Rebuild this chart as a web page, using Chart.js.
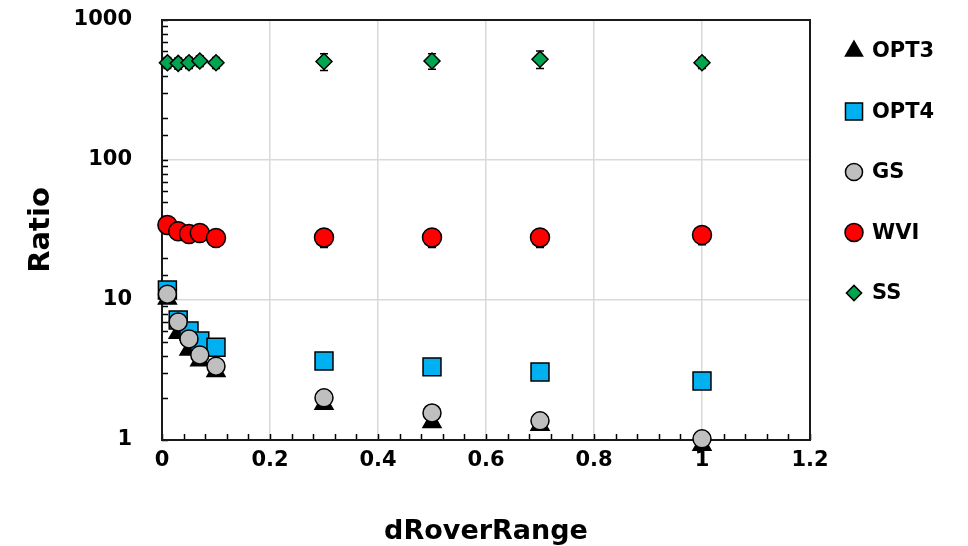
<!DOCTYPE html>
<html>
<head>
<meta charset="utf-8">
<script src="https://cdn.jsdelivr.net/npm/chart.js@4/dist/chart.umd.min.js"></script>
<style>
  html, body { margin: 0; padding: 0; background: #fff; }
  #wrap { width: 968px; height: 546px; }
</style>
</head>
<body>
<div id="wrap"><canvas id="ratioChart" width="968" height="546"></canvas></div>
<script>
// x positions (dRoverRange) shared by every series
const dRover = [0.01, 0.03, 0.05, 0.07, 0.1, 0.3, 0.5, 0.7, 1.0];

const opt3 = [10.2, 5.8, 4.4, 3.7, 3.1, 1.81, 1.34, 1.28, 0.92];
const opt4 = [11.8, 7.2, 6.0, 5.1, 4.6, 3.67, 3.33, 3.06, 2.64];
const gs   = [11.0, 6.97, 5.27, 4.05, 3.37, 2.0, 1.56, 1.37, 1.02];
const wvi  = [34.4, 31.0, 29.6, 30.1, 27.7, 28.0, 28.0, 28.0, 29.1];
const ss   = [495, 490, 495, 510, 495, 505, 510, 525, 495];

// error bar half-heights
const wviErr = [3, 3, 3, 3, 3, 4.3, 4.3, 4.3, 4.3];
const ssErr  = [45, 45, 45, 45, 45, 70, 65, 75, 45];

const xTickLabels = ['0', '0.2', '0.4', '0.6', '0.8', '1', '1.2'];
const yTickLabels = ['1', '10', '100', '1000'];

const FONT = 'DejaVu Sans';
const GRID = '#d9d9d9';

function pts(ys) {
    return ys.map((y, i) => ({ x: dRover[i], y: y }));
}

function xLabelFor(v) {
    const k = Math.round(v / 0.2);
    if (Math.abs(v - k * 0.2) > 1e-6) return null;
    return xTickLabels[k] !== undefined ? xTickLabels[k] : null;
}

function yLabelFor(v) {
    const k = Math.round(Math.log10(v));
    if (Math.abs(v - Math.pow(10, k)) > 1e-6) return null;
    return yTickLabels[k] !== undefined ? yTickLabels[k] : null;
}

const datasets = [
    { label: 'OPT3', data: pts(opt3), pointStyle: 'triangle', pointRadius: 10.4,
      backgroundColor: '#000000', borderColor: '#000000', order: 5 },
    { label: 'OPT4', data: pts(opt4), pointStyle: 'rect', pointRadius: 12.7,
      backgroundColor: '#00b0f0', borderColor: '#000000', order: 4 },
    { label: 'GS', data: pts(gs), pointStyle: 'circle', pointRadius: 9,
      backgroundColor: '#bfbfbf', borderColor: '#000000', order: 3 },
    { label: 'WVI', data: pts(wvi), pointStyle: 'circle', pointRadius: 9.5,
      backgroundColor: '#ff0000', borderColor: '#000000', order: 2, err: wviErr },
    { label: 'SS', data: pts(ss), pointStyle: 'rectRot', pointRadius: 8,
      backgroundColor: '#00a550', borderColor: '#000000', order: 1, err: ssErr }
];
datasets.forEach(d => {
    d.pointBorderWidth = 1.5;
    d.pointHoverRadius = d.pointRadius;
    d.showLine = false;
    d.clip = false;
});

// frame, inward tick marks, error bars and the side legend
const plotExtras = {
    id: 'plotExtras',
    beforeDatasetsDraw(chart) {
        const ctx = chart.ctx;
        const a = chart.chartArea;
        const xs = chart.scales.x, ys = chart.scales.y;

        ctx.save();
        ctx.strokeStyle = '#000';
        ctx.lineWidth = 1.5;
        ctx.beginPath();
        xs.ticks.forEach(t => {
            const px = Math.round(xs.getPixelForValue(t.value)) + 0.5;
            ctx.moveTo(px, a.bottom);
            ctx.lineTo(px, a.bottom - 6);
        });
        ys.ticks.forEach(t => {
            const py = Math.round(ys.getPixelForValue(t.value)) + 0.5;
            ctx.moveTo(a.left, py);
            ctx.lineTo(a.left + 6, py);
        });
        ctx.stroke();

        ctx.lineWidth = 2;
        ctx.strokeStyle = '#1a1a1a';
        ctx.strokeRect(a.left, a.top, a.right - a.left, a.bottom - a.top);

        // error bars sit behind the markers
        ctx.lineWidth = 1.5;
        ctx.strokeStyle = '#000';
        chart.data.datasets.forEach(ds => {
            if (!ds.err) return;
            ds.data.forEach((p, i) => {
                const e = ds.err[i];
                const px = xs.getPixelForValue(p.x);
                const top = ys.getPixelForValue(p.y + e);
                const bot = ys.getPixelForValue(p.y - e);
                ctx.beginPath();
                ctx.moveTo(px, top); ctx.lineTo(px, bot);
                ctx.moveTo(px - 4, top); ctx.lineTo(px + 4, top);
                ctx.moveTo(px - 4, bot); ctx.lineTo(px + 4, bot);
                ctx.stroke();
            });
        });
        ctx.restore();
    },
    afterDraw(chart) {
        const ctx = chart.ctx;
        const markX = 854, textX = 872, y0 = 51, step = 60.5;
        ctx.save();
        ctx.font = 'bold 21px "' + FONT + '"';
        ctx.textBaseline = 'middle';
        ctx.textAlign = 'left';
        chart.data.datasets.forEach((ds, i) => {
            const y = y0 + i * step;
            ctx.fillStyle = ds.backgroundColor;
            ctx.strokeStyle = ds.borderColor;
            ctx.lineWidth = 1.5;
            Chart.helpers.drawPoint(ctx, {
                pointStyle: ds.pointStyle,
                radius: ds.pointRadius * 0.95,
                borderWidth: 1.5,
                rotation: 0
            }, markX, y);
            ctx.fillStyle = '#000';
            ctx.fillText(ds.label, textX, y + 1);
        });
        ctx.restore();
    }
};

const tickFont = { family: FONT, size: 21, weight: 'bold' };
const titleFont = { family: FONT, size: 27, weight: 'bold' };

new Chart(document.getElementById('ratioChart'), {
    type: 'scatter',
    data: { datasets: datasets },
    plugins: [plotExtras],
    options: {
        responsive: false,
        animation: false,
        devicePixelRatio: 1,
        layout: { padding: { left: 0, right: 158, top: 20, bottom: 0 } },
        plugins: {
            legend: { display: false },
            tooltip: { enabled: false }
        },
        scales: {
            x: {
                type: 'linear',
                min: 0,
                max: 1.2,
                afterFit: s => { s.height = 106; s.paddingLeft = 0; s.paddingRight = 0; },
                border: { display: false },
                grid: {
                    drawTicks: false,
                    lineWidth: 1.5,
                    color: c => (c.tick && xLabelFor(c.tick.value) !== null ? GRID : 'rgba(0,0,0,0)')
                },
                ticks: {
                    stepSize: 0.04,
                    autoSkip: false,
                    maxRotation: 0,
                    padding: 8,
                    color: '#000',
                    font: tickFont,
                    callback: v => xLabelFor(v) || ''
                },
                title: {
                    display: true,
                    text: 'dRoverRange',
                    color: '#000',
                    font: titleFont,
                    padding: { top: 0, bottom: -2 }
                }
            },
            y: {
                type: 'logarithmic',
                min: 1,
                max: 1000,
                afterFit: s => { s.width = 162; s.paddingTop = 0; s.paddingBottom = 0; },
                border: { display: false },
                grid: {
                    drawTicks: false,
                    lineWidth: 1.5,
                    color: c => (c.tick && yLabelFor(c.tick.value) !== null ? GRID : 'rgba(0,0,0,0)')
                },
                ticks: {
                    autoSkip: false,
                    padding: 30,
                    color: '#000',
                    font: tickFont,
                    callback: v => yLabelFor(v) || ''
                },
                title: {
                    display: true,
                    text: 'Ratio',
                    color: '#000',
                    font: { family: FONT, size: 29, weight: 'bold' },
                    padding: { top: 24, bottom: 0 }
                }
            }
        }
    }
});
</script>
</body>
</html>
